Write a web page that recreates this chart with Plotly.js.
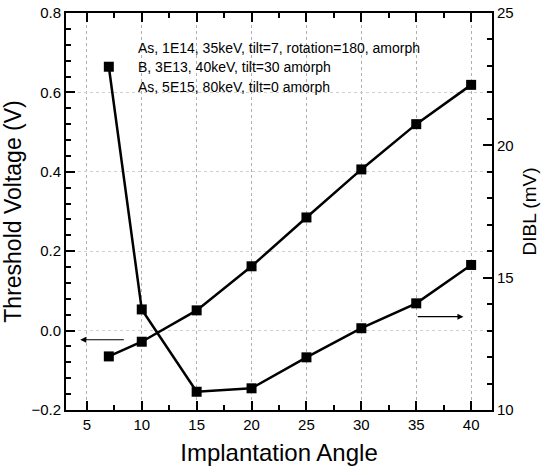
<!DOCTYPE html>
<html>
<head>
<meta charset="utf-8">
<script src="https://cdn.plot.ly/plotly-3.0.1.min.js"></script>
<style>html,body{margin:0;padding:0;background:#fff;}#chart{width:548px;height:475px;}</style>
</head>
<body>
<div id="chart"></div>
<script>
// Data
const angles = [7, 10, 15, 20, 25, 30, 35, 40];
const thresholdVoltage = [-0.065, -0.028, 0.051, 0.162, 0.285, 0.406, 0.520, 0.619];
const dibl = [22.97, 13.80, 10.69, 10.82, 11.99, 13.09, 14.03, 15.48];
const noteLines = [
  "As, 1E14, 35keV, tilt=7, rotation=180, amorph",
  "B, 3E13, 40keV, tilt=30 amorph",
  "As, 5E15, 80keV, tilt=0 amorph"
];

const font = "Liberation Sans, Arial, sans-serif";

const traces = [
  {
    x: angles, y: thresholdVoltage, yaxis: 'y', type: 'scatter', mode: 'lines+markers',
    line: {color: '#000', width: 2.5},
    marker: {symbol: 'square', size: 10, color: '#000'},
    showlegend: false, hoverinfo: 'skip'
  },
  {
    x: angles, y: dibl, yaxis: 'y2', type: 'scatter', mode: 'lines+markers',
    line: {color: '#000', width: 2.5},
    marker: {symbol: 'square', size: 10, color: '#000'},
    showlegend: false, hoverinfo: 'skip'
  }
];

const annotations = noteLines.map((t, i) => ({
  text: t, xref: 'paper', yref: 'paper', x: 0.164, y: 0.913 - i * 0.05,
  xanchor: 'left', yanchor: 'middle', showarrow: false,
  font: {family: font, size: 14, color: '#000'}
}));
// arrows indicating which axis belongs to which curve
annotations.push({
  x: 4.4, y: -0.023, ax: 8.5, ay: -0.023, xref: 'x', yref: 'y', axref: 'x', ayref: 'y',
  text: '', showarrow: true, arrowhead: 2, arrowsize: 1, arrowwidth: 1.2, arrowcolor: '#000'
});
annotations.push({
  x: 39.3, y: 0.035, ax: 35.0, ay: 0.035, xref: 'x', yref: 'y', axref: 'x', ayref: 'y',
  text: '', showarrow: true, arrowhead: 2, arrowsize: 1, arrowwidth: 1.2, arrowcolor: '#000'
});

const layout = {
  width: 548, height: 475,
  margin: {l: 66, r: 56, t: 13, b: 65, pad: 0},
  paper_bgcolor: '#fff', plot_bgcolor: '#fff',
  font: {family: font, color: '#000'},
  xaxis: {
    range: [3.1, 41.9], tickmode: 'linear', tick0: 0, dtick: 5,
    ticks: 'inside', ticklen: 9, tickwidth: 2, tickcolor: '#000',
    minor: {tickmode: 'linear', tick0: 0, dtick: 2.5, ticks: 'inside', ticklen: 5, tickwidth: 2, tickcolor: '#000', showgrid: false},
    showline: true, linecolor: '#000', linewidth: 2, mirror: 'ticks',
    showgrid: true, gridcolor: '#b0b0b0', griddash: 'dot', gridwidth: 1,
    zeroline: false, layer: 'above traces',
    tickfont: {family: font, size: 15, color: '#000'},
    title: {text: 'Implantation Angle', font: {family: font, size: 24, color: '#000'}, standoff: 12}
  },
  yaxis: {
    range: [-0.2, 0.8], tickmode: 'linear', tick0: 0, dtick: 0.2, tickformat: '.1f',
    ticks: 'inside', ticklen: 9, tickwidth: 2, tickcolor: '#000',
    minor: {tickmode: 'linear', tick0: 0, dtick: 0.04, ticks: 'inside', ticklen: 5, tickwidth: 2, tickcolor: '#000', showgrid: false},
    showline: true, linecolor: '#000', linewidth: 2,
    showgrid: true, gridcolor: '#d0d0d0', griddash: 'dot', gridwidth: 1,
    zeroline: false, layer: 'above traces',
    tickfont: {family: font, size: 15, color: '#000'},
    title: {text: 'Threshold Voltage (V)', font: {family: font, size: 23, color: '#000'}, standoff: 5}
  },
  yaxis2: {
    overlaying: 'y', side: 'right', range: [10, 25], tickmode: 'linear', tick0: 0, dtick: 5,
    ticks: 'inside', ticklen: 9, tickwidth: 2, tickcolor: '#000',
    minor: {tickmode: 'linear', tick0: 0, dtick: 1, ticks: 'inside', ticklen: 5, tickwidth: 2, tickcolor: '#000', showgrid: false},
    showline: true, linecolor: '#000', linewidth: 2,
    showgrid: false, zeroline: false, layer: 'above traces',
    tickfont: {family: font, size: 15, color: '#000'},
    title: {text: 'DIBL (mV)', font: {family: font, size: 19, color: '#000'}, standoff: 10}
  },
  annotations: annotations
};

Plotly.newPlot('chart', traces, layout, {displayModeBar: false, responsive: false});
</script>
</body>
</html>
